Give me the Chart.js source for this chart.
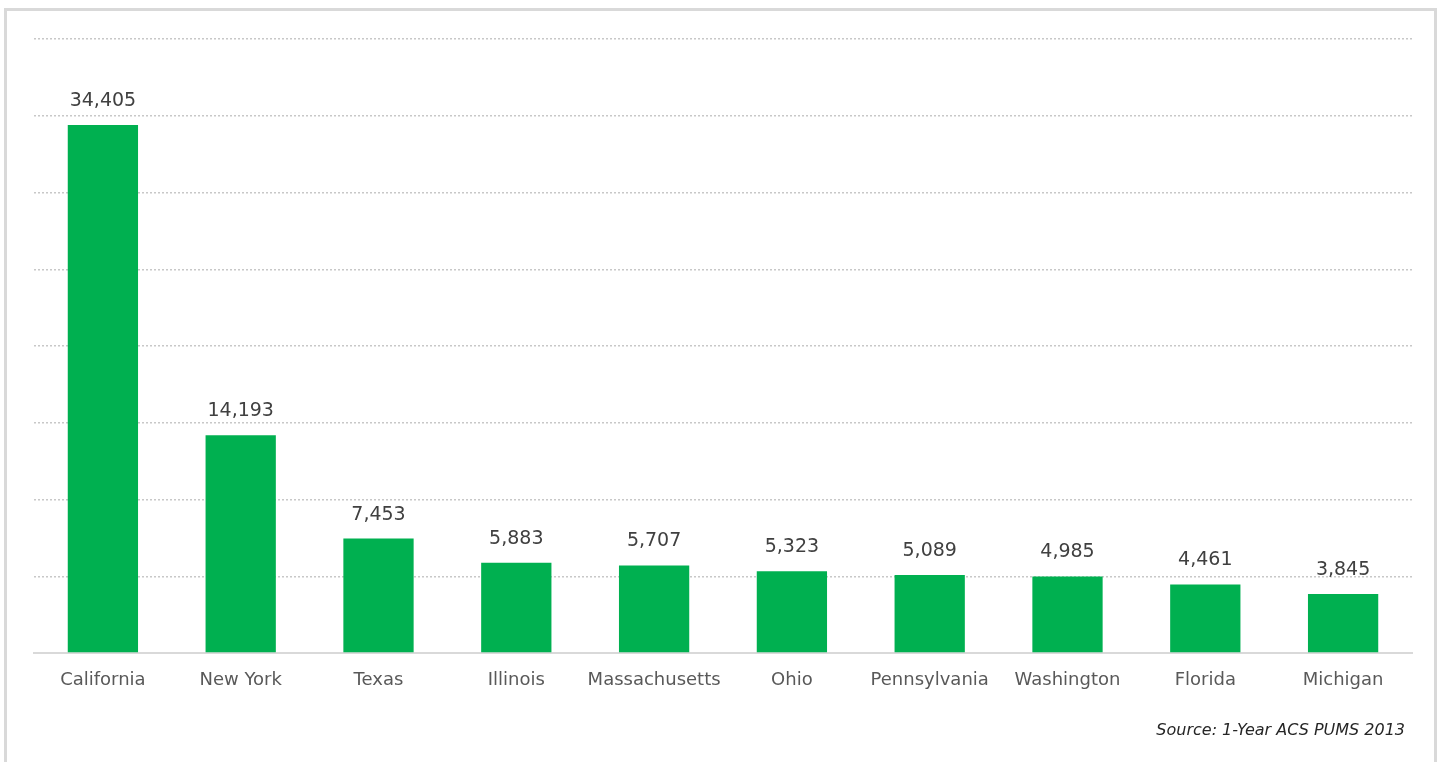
<!DOCTYPE html>
<html>
<head>
<meta charset="utf-8">
<script src="https://cdn.jsdelivr.net/npm/chart.js@4.4.0/dist/chart.umd.min.js"></script>
<style>
  html, body { margin: 0; padding: 0; background: #fff; overflow: hidden; }
  #wrap { position: relative; width: 1450px; height: 762px; }
  #frame { position: absolute; left: 4px; top: 8px; width: 1433px; height: 800px; border: 3px solid #d9d9d9; box-sizing: border-box; }
  canvas { position: absolute; left: 0; top: 0; }
</style>
</head>
<body>
<div id="wrap">
  <div id="frame"></div>
  <canvas id="myChart" width="1450" height="762"></canvas>
</div>
<script>
// categories et valeurs
const states = ['California', 'New York', 'Texas', 'Illinois', 'Massachusetts', 'Ohio', 'Pennsylvania', 'Washington', 'Florida', 'Michigan'];
const counts = [34405, 14193, 7453, 5883, 5707, 5323, 5089, 4985, 4461, 3845];
const yMax = 40000;
const yStep = 5000;
const sourceText = 'Source: 1-Year ACS PUMS 2013';

const fontName = '"DejaVu Sans", sans-serif';

// etiquettes au dessus des barres
const barLabels = {
    id: 'barLabels',
    afterDatasetsDraw(chart) {
        const ctx = chart.ctx;
        const meta = chart.getDatasetMeta(0);
        ctx.save();
        ctx.font = '19px ' + fontName;
        ctx.fillStyle = '#404040';
        ctx.textAlign = 'center';
        ctx.textBaseline = 'middle';
        meta.data.forEach((bar, i) => {
            ctx.fillText(counts[i].toLocaleString('en-US'), bar.x, bar.y - 24);
        });
        ctx.restore();
    }
};

// source en bas a droite
const sourceNote = {
    id: 'sourceNote',
    afterDraw(chart) {
        const ctx = chart.ctx;
        ctx.save();
        ctx.font = 'italic 16px ' + fontName;
        ctx.fillStyle = '#262626';
        ctx.textAlign = 'right';
        ctx.textBaseline = 'middle';
        ctx.fillText(sourceText, 1405, 731);
        ctx.restore();
    }
};

const data = {
    labels: states,
    datasets: [{
        data: counts,
        backgroundColor: '#00b050',
        barPercentage: 0.51,
        categoryPercentage: 1.0
    }]
};

const config = {
    type: 'bar',
    data: data,
    options: {
        responsive: false,
        animation: false,
        layout: { padding: { left: 34, right: 38, top: 39, bottom: 49 } },
        plugins: {
            legend: { display: false },
            tooltip: { enabled: false }
        },
        scales: {
            x: {
                grid: { display: false },
                border: { display: true, color: '#d9d9d9', width: 2 },
                ticks: {
                    color: '#595959',
                    font: { family: fontName, size: 18 },
                    padding: 9,
                    maxRotation: 0,
                    autoSkip: false
                },
                afterFit(scale) { scale.height = 60; }
            },
            y: {
                min: 0,
                max: yMax,
                ticks: { display: false, stepSize: yStep },
                grid: { color: '#c8c8c8', lineWidth: 1.5, drawTicks: false },
                border: { display: false, dash: [2, 2] },
                afterFit(scale) { scale.width = 0; }
            }
        }
    },
    plugins: [barLabels, sourceNote]
};

new Chart(document.getElementById('myChart'), config);
</script>
</body>
</html>
